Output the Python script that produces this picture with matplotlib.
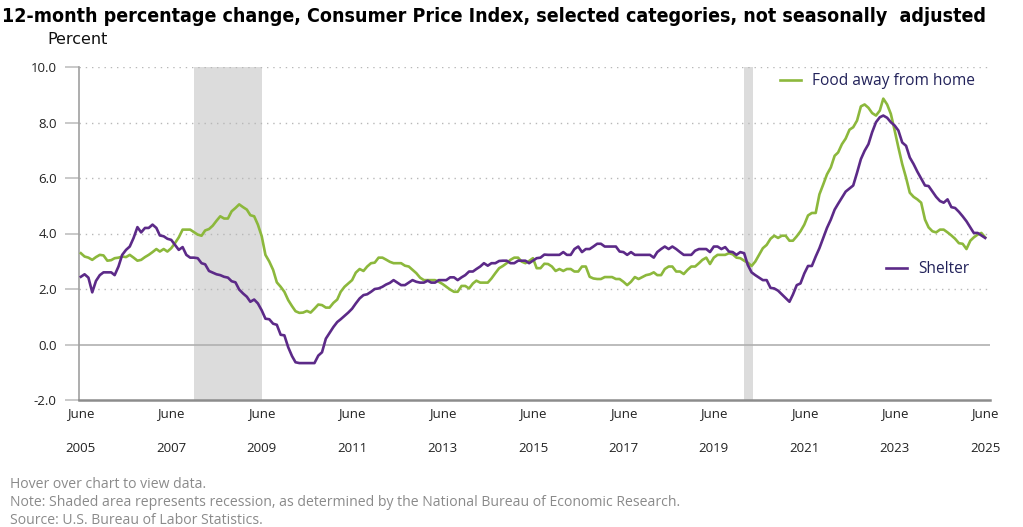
import matplotlib
matplotlib.use('Agg')
import matplotlib.pyplot as plt
import pandas as pd

# ---------------- data ----------------
months = pd.date_range('2005-06-01', '2025-06-01', freq='MS')

shelter = [
    2.44, 2.53, 2.41, 1.88, 2.29, 2.50, 2.60,                                   # Jun-Dec 2005
    2.60, 2.60, 2.50, 2.81, 3.23, 3.41, 3.53, 3.84, 4.23, 4.04, 4.20, 4.20,     # 2006
    4.32, 4.20, 3.93, 3.90, 3.81, 3.77, 3.59, 3.41, 3.51, 3.23, 3.13, 3.13,     # 2007
    3.11, 2.93, 2.89, 2.65, 2.59, 2.53, 2.50, 2.44, 2.41, 2.28, 2.24, 1.98,     # 2008
    1.84, 1.72, 1.54, 1.62, 1.48, 1.23, 0.93, 0.91, 0.75, 0.71, 0.35, 0.33,     # 2009
    -0.10, -0.42, -0.64, -0.67, -0.67, -0.67, -0.67, -0.67, -0.40, -0.28, 0.21, 0.42,  # 2010
    0.63, 0.81, 0.91, 1.03, 1.15, 1.29, 1.48, 1.66, 1.78, 1.81, 1.90, 2.00,     # 2011
    2.02, 2.08, 2.16, 2.22, 2.32, 2.23, 2.14, 2.14, 2.23, 2.32, 2.26, 2.23,     # 2012
    2.23, 2.30, 2.23, 2.23, 2.32, 2.32, 2.32, 2.42, 2.42, 2.32, 2.42, 2.50,     # 2013
    2.63, 2.63, 2.72, 2.81, 2.93, 2.84, 2.93, 2.93, 3.01, 3.02, 3.02, 2.93,     # 2014
    2.93, 3.02, 3.02, 3.02, 2.93, 3.02, 3.11, 3.13, 3.24, 3.23, 3.23, 3.23,     # 2015
    3.23, 3.33, 3.23, 3.23, 3.44, 3.53, 3.33, 3.44, 3.44, 3.53, 3.63, 3.63,     # 2016
    3.53, 3.53, 3.53, 3.53, 3.35, 3.33, 3.23, 3.33, 3.23, 3.23, 3.23, 3.23,     # 2017
    3.23, 3.13, 3.33, 3.44, 3.53, 3.44, 3.53, 3.44, 3.33, 3.23, 3.23, 3.23,     # 2018
    3.38, 3.44, 3.44, 3.44, 3.33, 3.53, 3.53, 3.44, 3.51, 3.35, 3.33, 3.23,     # 2019
    3.33, 3.29, 2.87, 2.60, 2.50, 2.41, 2.32, 2.32, 2.04, 2.02, 1.94, 1.81,     # 2020
    1.68, 1.54, 1.80, 2.14, 2.20, 2.56, 2.83, 2.83, 3.17, 3.47, 3.84, 4.20,     # 2021
    4.50, 4.86, 5.07, 5.29, 5.51, 5.62, 5.73, 6.19, 6.68, 6.98, 7.22, 7.65,     # 2022
    8.01, 8.19, 8.25, 8.17, 8.01, 7.89, 7.71, 7.28, 7.16, 6.74, 6.50, 6.23,     # 2023
    5.98, 5.73, 5.71, 5.51, 5.32, 5.17, 5.11, 5.23, 4.95, 4.92, 4.78, 4.62,     # 2024
    4.44, 4.22, 4.02, 4.02, 3.93, 3.84,                                         # Jan-Jun 2025
]

food_away = [
    3.29, 3.17, 3.13, 3.05, 3.15, 3.23, 3.21,                                   # Jun-Dec 2005
    3.02, 3.04, 3.11, 3.13, 3.17, 3.15, 3.23, 3.13, 3.02, 3.05, 3.15, 3.23,     # 2006
    3.33, 3.44, 3.35, 3.44, 3.35, 3.47, 3.65, 3.86, 4.14, 4.14, 4.14, 4.05,     # 2007
    3.96, 3.92, 4.11, 4.16, 4.28, 4.46, 4.62, 4.54, 4.54, 4.80, 4.92, 5.05,     # 2008
    4.95, 4.86, 4.66, 4.62, 4.32, 3.90, 3.23, 2.99, 2.69, 2.24, 2.08, 1.90,     # 2009
    1.60, 1.38, 1.20, 1.14, 1.15, 1.21, 1.15, 1.29, 1.44, 1.42, 1.33, 1.33,     # 2010
    1.50, 1.62, 1.90, 2.08, 2.20, 2.32, 2.59, 2.72, 2.65, 2.81, 2.93, 2.95,     # 2011
    3.13, 3.13, 3.06, 2.98, 2.93, 2.93, 2.93, 2.84, 2.81, 2.69, 2.57, 2.41,     # 2012
    2.32, 2.32, 2.32, 2.32, 2.26, 2.18, 2.08, 1.98, 1.90, 1.90, 2.11, 2.11,     # 2013
    2.02, 2.20, 2.30, 2.23, 2.23, 2.23, 2.38, 2.57, 2.75, 2.83, 2.93, 3.05,     # 2014
    3.13, 3.13, 2.99, 2.93, 3.01, 3.11, 2.75, 2.75, 2.91, 2.90, 2.81, 2.65,     # 2015
    2.72, 2.65, 2.72, 2.72, 2.63, 2.63, 2.81, 2.81, 2.44, 2.38, 2.36, 2.36,     # 2016
    2.43, 2.43, 2.43, 2.36, 2.36, 2.26, 2.14, 2.26, 2.43, 2.36, 2.43, 2.50,     # 2017
    2.53, 2.60, 2.50, 2.50, 2.72, 2.81, 2.81, 2.63, 2.63, 2.54, 2.69, 2.81,     # 2018
    2.81, 2.93, 3.05, 3.13, 2.90, 3.13, 3.23, 3.23, 3.23, 3.29, 3.25, 3.13,     # 2019
    3.11, 3.02, 2.95, 2.83, 2.99, 3.23, 3.47, 3.59, 3.81, 3.92, 3.84, 3.92,     # 2020
    3.92, 3.74, 3.74, 3.90, 4.08, 4.32, 4.65, 4.74, 4.74, 5.41, 5.77, 6.13,     # 2021
    6.38, 6.80, 6.92, 7.22, 7.42, 7.74, 7.83, 8.07, 8.58, 8.65, 8.53, 8.34,     # 2022
    8.25, 8.43, 8.86, 8.65, 8.31, 7.71, 7.10, 6.50, 6.01, 5.47, 5.32, 5.23,     # 2023
    5.11, 4.50, 4.22, 4.08, 4.04, 4.14, 4.14, 4.04, 3.93, 3.81, 3.65, 3.63,     # 2024
    3.44, 3.74, 3.86, 3.96, 4.02, 3.86,                                         # Jan-Jun 2025
]

tick_years = list(range(2005, 2026, 2))
tick_labels = [f"June\n{y}" for y in tick_years]
y_ticks = [-2, 0, 2, 4, 6, 8, 10]
recessions = [("2007-12-01", "2009-06-01"), ("2020-02-01", "2020-04-15")]

series_names = ["Food away from home", "Shelter"]
title_text = "12-month percentage change, Consumer Price Index, selected categories, not seasonally  adjusted"
footer_lines = ["Hover over chart to view data.",
                "Note: Shaded area represents recession, as determined by the National Bureau of Economic Research.",
                "Source: U.S. Bureau of Labor Statistics."]

# ---------------- style ----------------
GREEN = '#8cb83c'
PURPLE = '#5c2a88'
LEGEND_TXT = '#22225a'
W, H = 1023, 527

fig = plt.figure(figsize=(W / 100, H / 100), dpi=100)
ax = fig.add_axes([79 / W, 127 / H, 911 / W, 333 / H])

for start, end in recessions:
    ax.axvspan(pd.Timestamp(start), pd.Timestamp(end), color='#dcdcdc', lw=0, zorder=0)

ax.set_ylim(-2, 10)
ax.set_xlim(pd.Timestamp('2005-05-17'), pd.Timestamp('2025-07-10'))

ax.set_yticks(y_ticks)
ax.set_yticklabels([f"{v:.1f}" for v in y_ticks])
for v in y_ticks:
    if v > 0:
        ax.axhline(v, color='#b8b8b8', lw=1.0, ls=(0, (1, 3.5)), zorder=1)
ax.axhline(0, color='#b0b0b0', lw=1.2, zorder=1)

lf, = ax.plot(months, food_away, color=GREEN, lw=1.9, zorder=3, solid_joinstyle='round')
ls, = ax.plot(months, shelter, color=PURPLE, lw=1.9, zorder=4, solid_joinstyle='round')

ax.set_xticks([pd.Timestamp(f"{y}-06-01") for y in tick_years])
ax.set_xticklabels(tick_labels)
for lab in ax.get_xticklabels():
    lab.set_linespacing(3.2)

for s in ['top', 'right']:
    ax.spines[s].set_visible(False)
ax.spines['left'].set_color('#a0a0a0')
ax.spines['left'].set_linewidth(1.2)
ax.spines['bottom'].set_color('#8c8c8c')
ax.spines['bottom'].set_linewidth(1.8)

tick_family = ['Open Sans', 'DejaVu Sans']
ax.tick_params(axis='y', length=10, width=1.2, color='#c0c0c0', pad=6, direction='out')
ax.tick_params(axis='x', length=0, pad=5)
for lab in ax.get_yticklabels() + ax.get_xticklabels():
    lab.set_fontfamily(tick_family)
    lab.set_fontsize(9.5)
    lab.set_color('#222222')

leg_font = dict(family=['Open Sans', 'DejaVu Sans'], size=11.2)
leg1 = ax.legend(handles=[lf], labels=[series_names[0]], loc='upper left',
                 bbox_to_anchor=((780 - 79) / 911, (400 - 73) / 333),
                 frameon=False, borderaxespad=0, borderpad=0,
                 handlelength=1.35, handletextpad=0.7, prop=leg_font,
                 labelcolor=LEGEND_TXT)
ax.add_artist(leg1)
ax.legend(handles=[ls], labels=[series_names[1]], loc='upper left',
          bbox_to_anchor=((886 - 79) / 911, (400 - 261) / 333),
          frameon=False, borderaxespad=0, borderpad=0,
          handlelength=1.35, handletextpad=0.7, prop=leg_font,
          labelcolor=LEGEND_TXT)

# title in a condensed face; shrink to fit the reference width if needed
title_family = ['DejaVu Sans']
t = fig.text(2 / W, 1 - 16 / H, title_text, ha='left', va='center', fontsize=14.1,
             fontweight='bold', family=title_family, fontstretch='condensed', color='#000000')
fig.text(47 / W, 1 - 40 / H, "Percent", ha='left', va='center', fontsize=11.5,
         family=title_family, color='#111111')
fig.canvas.draw()
r = fig.canvas.get_renderer()
target = 982.0
wpx = t.get_window_extent(r).width
if wpx > target:
    t.set_fontsize(t.get_fontsize() * target / wpx)

foot_family = ['Open Sans', 'DejaVu Sans']
for i, line in enumerate(footer_lines):
    fig.text(10 / W, 1 - (485 + i * 17.5) / H, line, ha='left', va='center',
             fontsize=10.05, family=foot_family, color='#8a8a8a')

fig.savefig('out.png', dpi=100)
